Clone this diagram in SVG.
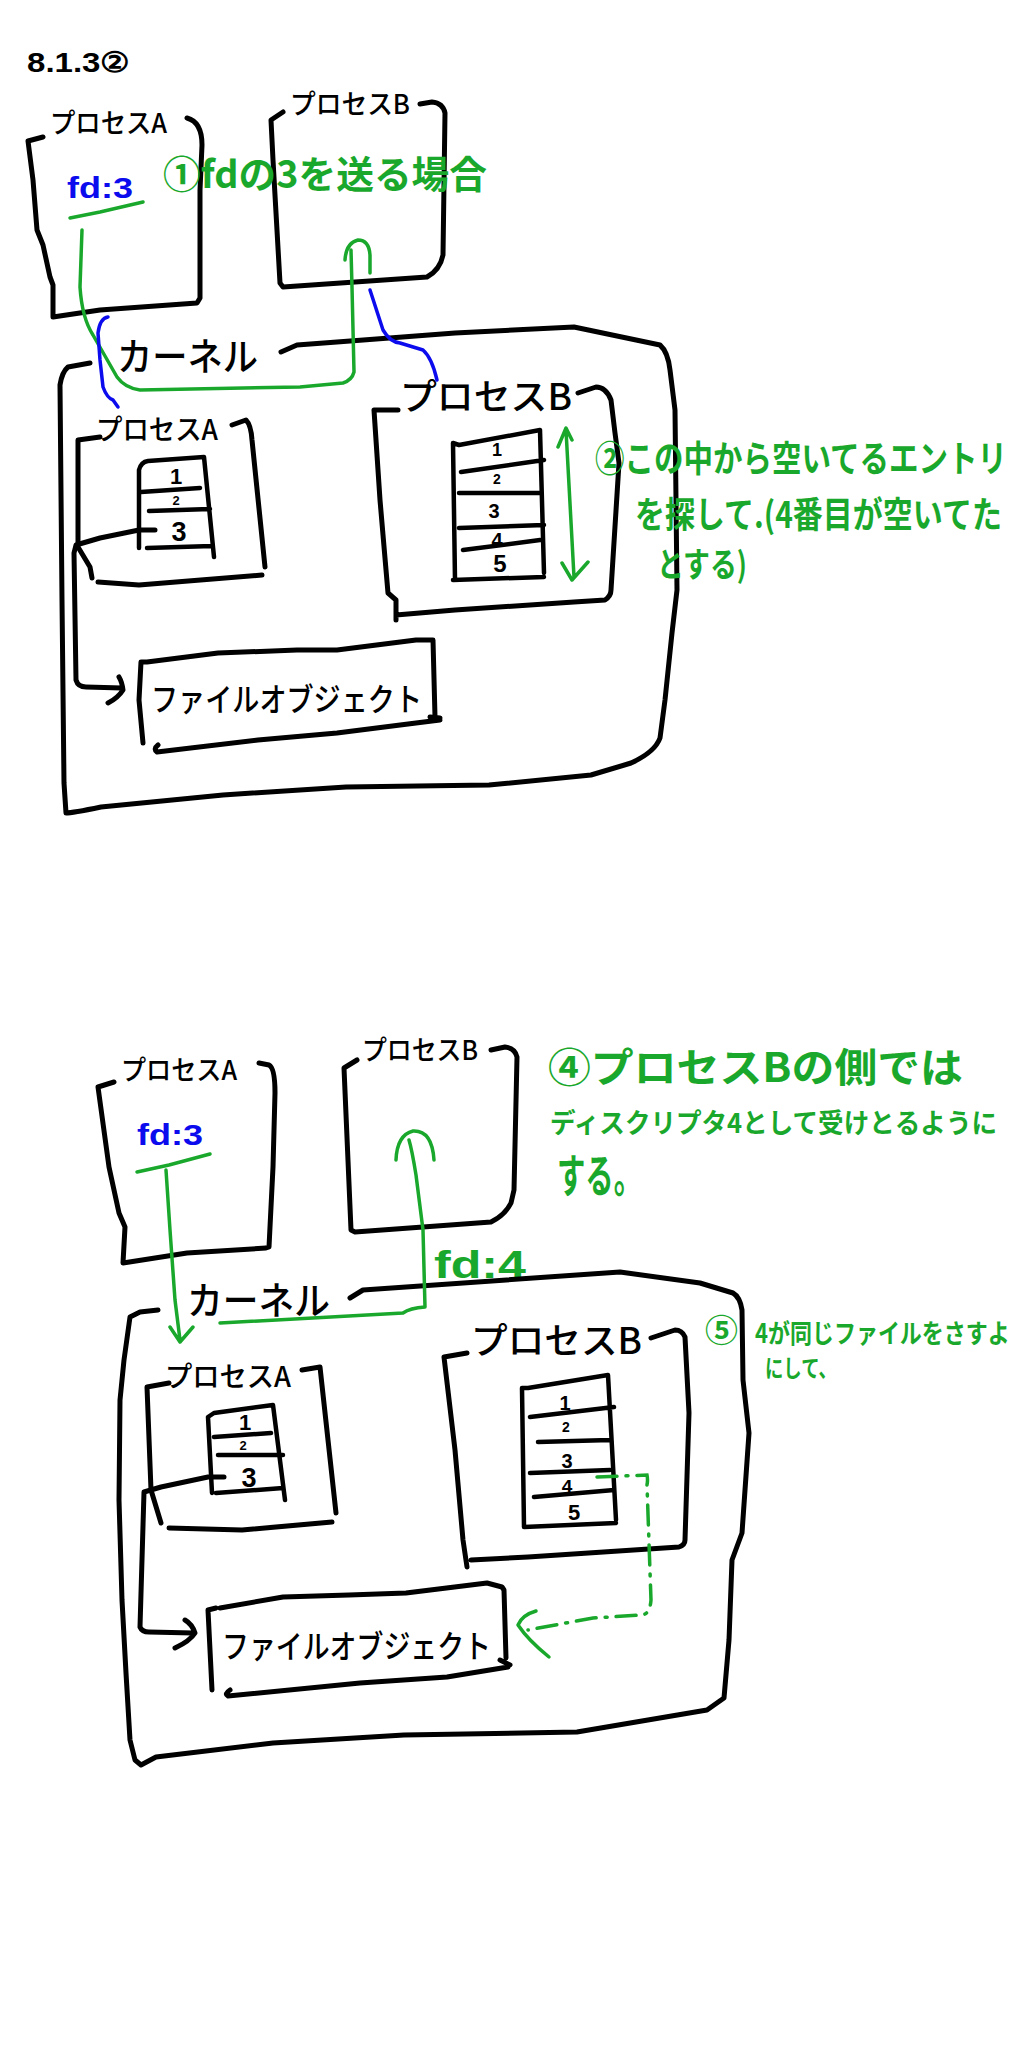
<svg xmlns="http://www.w3.org/2000/svg" width="1024" height="2048" viewBox="0 0 1024 2048">
<style>
.k{fill:none;stroke:#000;stroke-width:5;stroke-linecap:round;stroke-linejoin:round}
.kt{fill:none;stroke:#000;stroke-width:4.5;stroke-linecap:round;stroke-linejoin:round}
.g{fill:none;stroke:#19a82c;stroke-width:3.5;stroke-linecap:round;stroke-linejoin:round}
.gd{fill:none;stroke:#19a82c;stroke-width:3.5;stroke-linecap:round;stroke-dasharray:20 9 2 9}
.b{fill:none;stroke:#0b0bee;stroke-width:3.5;stroke-linecap:round;stroke-linejoin:round}
.jt{font-family:"Noto Sans CJK JP","Noto Sans",sans-serif;fill:#000;font-weight:500}
.nt{font-family:"Liberation Sans",Arial,sans-serif;fill:#000;font-weight:bold}
.gt{font-family:"Noto Sans CJK JP","Noto Sans",sans-serif;fill:#19a82c;font-weight:bold}
.gl{font-family:"Liberation Sans",Arial,sans-serif;fill:#19a82c;font-weight:bold}
.bt{font-family:"Liberation Sans",Arial,sans-serif;fill:#0b0bee;font-weight:bold}
</style>
<rect width="1024" height="2048" fill="#fff"/>

<g id="title"><text class="nt" x="27" y="72" font-size="28" textLength="103" lengthAdjust="spacingAndGlyphs">8.1.3②</text></g>

<!-- ================= TOP SCENE ================= -->
<g id="top-processA">
<path class="k" d="M43,137 L28,141 L33,180 L37,230 L43,245 L50,277 L53,285 L53,317 L100,310 L197,303 L200,298 L200,190 L202,145 Q202,122 187,118"/>
<text class="jt" x="50" y="133" font-size="27" textLength="117" lengthAdjust="spacingAndGlyphs">プロセスA</text>
<text class="bt" x="67" y="198" font-size="30" textLength="66" lengthAdjust="spacingAndGlyphs">fd:3</text>
</g>
<g id="top-processB">
<path class="k" d="M283,112 L271,120 L273,160 L280,283 L283,287 L427,277 Q440,270 443,255 L445,113 Q443,103 432,102 L420,104"/>
<text class="jt" x="290" y="114" font-size="27" textLength="120" lengthAdjust="spacingAndGlyphs">プロセスB</text>
</g>
<g id="top-note1"><text class="gt" x="163" y="188" font-size="38" textLength="324" lengthAdjust="spacingAndGlyphs">①fdの3を送る場合</text></g>

<g id="top-kernel">
<path class="k" d="M90,363 L68,367 Q62,372 60,385 L62,600 L64,783 L66,813 Q72,813 101,807 L223,795 L346,787 L489,785 L591,775 L631,763 Q655,752 660,738 L665,700 L672,633 L677,590 L675,410 L670,370 Q668,352 660,345 L574,327 L455,333 L337,342 L297,345 L281,352"/>
<text class="jt" x="117" y="370" font-size="38" textLength="141" lengthAdjust="spacingAndGlyphs">カーネル</text>
</g>
<g id="top-kernel-processA">
<path class="k" d="M100,437 L78,440 L78,547 L90,567 L92,578 M98,582 L139,585 L262,575 M232,425 L246,420 Q251,425 252,440 L265,567"/>
<text class="jt" x="96" y="440" font-size="28" textLength="122" lengthAdjust="spacingAndGlyphs">プロセスA</text>
<path class="kt" d="M139,548 L139,470 Q141,462 148,461 L204,457 L214,557 M141,492 L200,488 M149,511 L210,509 M147,548 L212,546"/>
<text class="nt" x="176" y="484" font-size="22" text-anchor="middle">1</text>
<text class="nt" x="176" y="505" font-size="13" text-anchor="middle">2</text>
<text class="nt" x="179" y="541" font-size="27" text-anchor="middle">3</text>
</g>
<g id="top-kernel-processB">
<path class="k" d="M398,410 L374,410 L380,500 L388,593 L396,600 L396,620 M396,615 L455,610 L574,602 L605,600 Q611,596 611,590 L619,463 L615,433 L611,400 Q606,387 596,387 L578,393"/>
<text class="jt" x="400" y="410" font-size="36" textLength="172" lengthAdjust="spacingAndGlyphs">プロセスB</text>
<path class="kt" d="M455,580 L453,443 L459,445 L540,430 L544,573 M461,472 L544,460 M459,493 L540,493 M459,528 L544,525 M463,550 L540,540 M453,580 L544,577"/>
<text class="nt" x="497" y="456" font-size="18" text-anchor="middle">1</text>
<text class="nt" x="497" y="484" font-size="14" text-anchor="middle">2</text>
<text class="nt" x="494" y="518" font-size="20" text-anchor="middle">3</text>
<text class="nt" x="497" y="547" font-size="20" text-anchor="middle">4</text>
<text class="nt" x="500" y="572" font-size="24" text-anchor="middle">5</text>
</g>
<g id="top-fileobject">
<path class="k" d="M147,662 L141,662 L139,700 L143,743 M147,662 L218,653 L297,650 L337,650 L416,640 L433,640 L435,717 M430,717 L440,718 M158,745 Q153,749 157,752 L258,740 L337,733 L416,723 L440,720"/>
<text class="jt" x="151" y="711" font-size="32" textLength="271" lengthAdjust="spacingAndGlyphs">ファイルオブジェクト</text>
</g>
<g id="top-note2">
<text class="gt" transform="translate(595,472) scale(1,1.25)" x="0" y="0" font-size="29.5">②この中から空いてるエントリ</text>
<text class="gt" transform="translate(635,528) scale(1,1.2)" x="0" y="0" font-size="30">を探して.(4番目が空いてた</text>
<text class="gt" x="657" y="577" font-size="34" textLength="90" lengthAdjust="spacingAndGlyphs">とする)</text>
</g>

<g id="top-connectors">
<path class="g" d="M70,218 L100,212 L143,202"/>
<path class="g" d="M82,230 L80,287 Q82,318 93,335 L117,377 Q125,388 140,390 L300,387 L343,383 Q352,380 354,372 L352,287 L351,250"/>
<path class="g" d="M345,260 Q346,243 358,240 Q369,240 370,255 L370,273"/>
<path class="b" d="M108,317 Q100,318 98,333 L100,360 L103,387 Q107,398 113,400 L118,407"/>
<path class="b" d="M370,290 L383,330 Q390,342 400,343 L423,350 Q432,358 437,380"/>
<path class="k" d="M155,530 L139,530 L100,538 L76,545 L74,553 L76,680 Q78,687 86,687 L122,688 M108,703 Q118,698 123,690 Q122,682 119,677"/>
<path class="g" d="M566,430 L574,577 M558,447 L566,428 L572,440 M562,563 L572,580 L588,562"/>
</g>

<!-- ================= BOTTOM SCENE ================= -->
<g id="bot-processA">
<path class="k" d="M114,1082 L98,1087 L109,1167 L119,1213 L125,1227 L123,1263 L187,1253 L266,1248 L269,1247 L273,1167 L275,1093 Q275,1068 269,1065 L259,1063"/>
<text class="jt" x="121" y="1080" font-size="27" textLength="116" lengthAdjust="spacingAndGlyphs">プロセスA</text>
<text class="bt" x="137" y="1145" font-size="30" textLength="66" lengthAdjust="spacingAndGlyphs">fd:3</text>
</g>
<g id="bot-processB">
<path class="k" d="M357,1060 L344,1068 L351,1230 L355,1232 L491,1222 Q505,1215 511,1203 L514,1190 L517,1057 Q515,1048 505,1047 L491,1050"/>
<text class="jt" x="362" y="1060" font-size="27" textLength="116" lengthAdjust="spacingAndGlyphs">プロセスB</text>
</g>
<g id="bot-note4">
<text class="gt" x="548" y="1082" font-size="40" textLength="415" lengthAdjust="spacingAndGlyphs">④プロセスBの側では</text>
<text class="gt" x="550" y="1133" font-size="27" textLength="447" lengthAdjust="spacingAndGlyphs">ディスクリプタ4として受けとるように</text>
<text class="gt" x="557" y="1192" font-size="46" textLength="85" lengthAdjust="spacingAndGlyphs">する。</text>
</g>
<g id="bot-fd4"><text class="gl" x="434" y="1278" font-size="38" textLength="92" lengthAdjust="spacingAndGlyphs">fd:4</text></g>

<g id="bot-kernel">
<path class="k" d="M158,1310 L140,1312 L130,1317 L124,1360 L120,1400 L119,1500 L122,1600 L126,1673 L130,1740 L135,1760 L141,1765 L156,1757 L273,1743 L404,1735 L577,1732 L707,1710 L724,1698 L729,1640 L732,1560 L742,1533 L749,1433 L743,1380 L742,1310 Q740,1297 733,1293 L700,1283 L620,1272 L363,1290 L350,1298"/>
<text class="jt" x="187" y="1314" font-size="38" textLength="143" lengthAdjust="spacingAndGlyphs">カーネル</text>
</g>
<g id="bot-kernel-processA">
<path class="k" d="M169,1383 L147,1387 L151,1490 L161,1523 M169,1528 L242,1530 L332,1522 M302,1370 L320,1367 L336,1513"/>
<text class="jt" x="165" y="1387" font-size="28" textLength="126" lengthAdjust="spacingAndGlyphs">プロセスA</text>
<path class="kt" d="M212,1493 L208,1417 L214,1413 L273,1405 L285,1500 M214,1437 L271,1433 M218,1455 L283,1455 M216,1493 L283,1488"/>
<text class="nt" x="245" y="1430" font-size="22" text-anchor="middle">1</text>
<text class="nt" x="243" y="1450" font-size="13" text-anchor="middle">2</text>
<text class="nt" x="249" y="1487" font-size="27" text-anchor="middle">3</text>
</g>
<g id="bot-kernel-processB">
<path class="k" d="M467,1353 L444,1357 L455,1450 L463,1540 L467,1567 M471,1560 L528,1557 L679,1547 Q685,1545 685,1540 L689,1413 L685,1337 Q682,1330 675,1330 L651,1338"/>
<text class="jt" x="471" y="1354" font-size="36" textLength="171" lengthAdjust="spacingAndGlyphs">プロセスB</text>
<path class="kt" d="M524,1527 L522,1388 L528,1388 L608,1375 L616,1520 M530,1417 L614,1407 M538,1442 L610,1440 M530,1473 L610,1470 M534,1497 L614,1490 M524,1527 L616,1523"/>
<text class="nt" x="565" y="1410" font-size="20" text-anchor="middle">1</text>
<text class="nt" x="566" y="1432" font-size="14" text-anchor="middle">2</text>
<text class="nt" x="567" y="1468" font-size="20" text-anchor="middle">3</text>
<text class="nt" x="567" y="1493" font-size="19" text-anchor="middle">4</text>
<text class="nt" x="574" y="1520" font-size="22" text-anchor="middle">5</text>
</g>
<g id="bot-fileobject">
<path class="k" d="M216,1608 L208,1610 L210,1650 L212,1690 M220,1608 L283,1597 L349,1595 L406,1593 L487,1583 L502,1587 L504,1590 L506,1658 M500,1660 L510,1665 M230,1690 Q224,1694 228,1696 L360,1683 L447,1677 L508,1667"/>
<text class="jt" x="222" y="1658" font-size="32" textLength="269" lengthAdjust="spacingAndGlyphs">ファイルオブジェクト</text>
</g>
<g id="bot-note5">
<text class="gt" x="705" y="1342" font-size="32" textLength="33" lengthAdjust="spacingAndGlyphs">⑤</text>
<text class="gt" transform="translate(755,1343) scale(1,1.2)" x="0" y="0" font-size="22">4が同じファイルをさすよ</text>
<text class="gt" x="765" y="1377" font-size="24" textLength="72" lengthAdjust="spacingAndGlyphs">にして、</text>
</g>

<g id="bot-connectors">
<path class="g" d="M137,1172 L169,1165 L210,1154"/>
<path class="g" d="M166,1170 L170,1230 L175,1300 L180,1340 M170,1327 L180,1342 L193,1327"/>
<path class="g" d="M220,1323 L403,1313 Q410,1308 425,1307 L423,1230 L416,1175 Q412,1150 409,1140"/>
<path class="g" d="M396,1160 Q397,1135 413,1131 Q432,1130 434,1160"/>
<path class="k" d="M224,1477 L208,1477 L161,1487 L144,1492 L140,1627 Q142,1632 149,1632 L193,1633 M175,1648 Q190,1641 195,1633 Q192,1624 185,1620"/>
<path class="gd" d="M597,1477 L647,1475 Q648,1480 647,1485 L651,1600 Q650,1614 642,1615 L593,1618 L528,1630"/>
<path class="g" d="M536,1611 Q522,1615 518,1625 Q528,1640 549,1657"/>
</g>
</svg>
